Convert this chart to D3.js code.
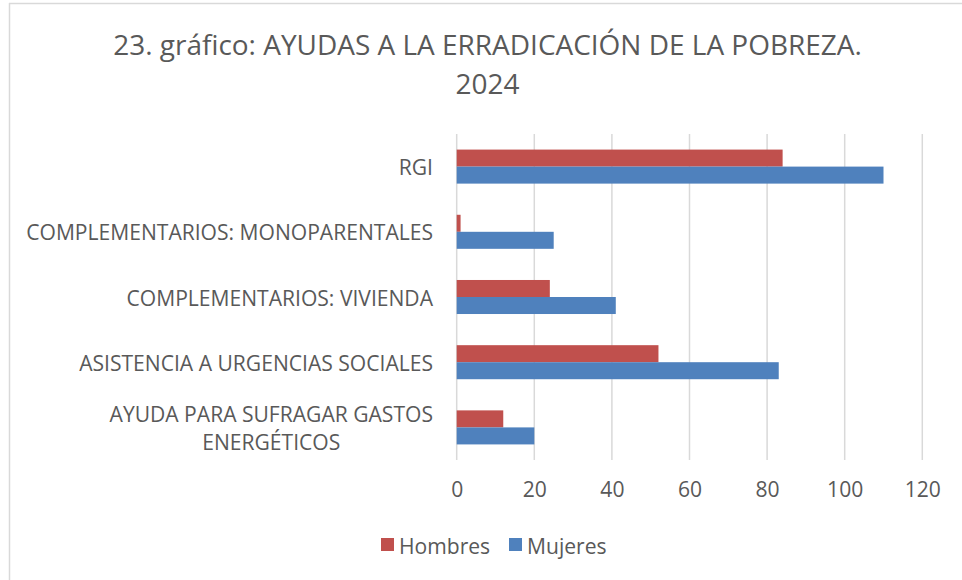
<!DOCTYPE html>
<html>
<head>
<meta charset="utf-8">
<script src="https://cdn.jsdelivr.net/npm/d3@7"></script>
<style>
  html, body { margin: 0; padding: 0; background: #fff; }
  svg { display: block; }
  text { font-family: "Open Sans", "Liberation Sans", sans-serif; fill: #595959; }
</style>
</head>
<body>
<svg id="chart" width="962" height="580"></svg>
<script>
const titleLines = ["23. gráfico: AYUDAS A LA ERRADICACIÓN DE LA POBREZA.", "2024"];
const categories = [
  "RGI",
  "COMPLEMENTARIOS: MONOPARENTALES",
  "COMPLEMENTARIOS: VIVIENDA",
  "ASISTENCIA A URGENCIAS SOCIALES",
  "AYUDA PARA SUFRAGAR GASTOS ENERGÉTICOS"
];
const categoryLines = [
  ["RGI"],
  ["COMPLEMENTARIOS: MONOPARENTALES"],
  ["COMPLEMENTARIOS: VIVIENDA"],
  ["ASISTENCIA A URGENCIAS SOCIALES"],
  ["AYUDA PARA SUFRAGAR GASTOS", "ENERGÉTICOS"]
];
const seriesNames = ["Hombres", "Mujeres"];
const hombres = [84, 1, 24, 52, 12];
const mujeres = [110, 25, 41, 83, 20];
const xTicks = [0, 20, 40, 60, 80, 100, 120];
const colors = ["#c0504d", "#4f81bd"];

const svg = d3.select("#chart");

// frame (left & top edges visible)
svg.append("line").attr("x1", 9.5).attr("x2", 9.5).attr("y1", 3).attr("y2", 580)
  .attr("stroke", "#d9d9d9").attr("stroke-width", 1.5);
svg.append("line").attr("x1", 9).attr("x2", 962).attr("y1", 3.5).attr("y2", 3.5)
  .attr("stroke", "#d9d9d9").attr("stroke-width", 1.5);

function fitSize(sel, targetWidth, baseSize) {
  sel.attr("font-size", baseSize);
  const w = sel.node().getComputedTextLength();
  return baseSize * targetWidth / w;
}

// Title
const t1 = svg.append("text").attr("x", 487.5).attr("y", 55).attr("text-anchor", "middle").text(titleLines[0]);
const titleSize = fitSize(t1, 749, 28);
t1.attr("font-size", titleSize);
svg.append("text").attr("x", 487.5).attr("y", 94).attr("text-anchor", "middle")
  .attr("font-size", titleSize).text(titleLines[1]);

const x = d3.scaleLinear().domain([0, 120]).range([456.7, 922.3]);
const y = d3.scaleBand().domain(categories).range([134, 460]).paddingInner(0.478).paddingOuter(0.239);
const ySub = d3.scaleBand().domain(seriesNames).range([0, y.bandwidth()]);

// measure label font size
const probe = svg.append("text").text("COMPLEMENTARIOS: MONOPARENTALES");
const labelSize = fitSize(probe, 407, 18);
probe.remove();

// gridlines
svg.append("g").selectAll("line").data(xTicks).join("line")
  .attr("x1", d => x(d)).attr("x2", d => x(d))
  .attr("y1", 134).attr("y2", 460)
  .attr("stroke", "#d9d9d9").attr("stroke-width", 1.5);

// bars
const data = categories.map((c, i) => ({ c, vals: [hombres[i], mujeres[i]] }));
const groups = svg.append("g").selectAll("g").data(data).join("g")
  .attr("transform", d => `translate(0,${y(d.c)})`);
groups.selectAll("rect").data(d => d.vals.map((v, j) => ({ v, s: seriesNames[j], j }))).join("rect")
  .attr("x", x(0))
  .attr("y", d => ySub(d.s))
  .attr("width", d => x(d.v) - x(0))
  .attr("height", ySub.bandwidth())
  .attr("fill", d => colors[d.j]);

// x axis
const xAxis = svg.append("g").attr("transform", "translate(0,460)")
  .call(d3.axisBottom(x).tickValues(xTicks).tickSize(0).tickPadding(22));
xAxis.select(".domain").remove();
xAxis.selectAll("text").attr("font-size", labelSize).attr("fill", "#595959")
  .style("font-family", '"Open Sans", "Liberation Sans", sans-serif');

// category labels
const lineH = 28;
categories.forEach((c, i) => {
  const lines = categoryLines[i];
  const cy = y(c) + y.bandwidth() / 2;
  const txt = svg.append("text").attr("font-size", labelSize).attr("dominant-baseline", "central");
  if (lines.length === 1) {
    txt.attr("x", 433).attr("y", cy).attr("text-anchor", "end").text(lines[0]);
  } else {
    // centered multi-line, right edge aligned to 433 for widest line
    const tmp = svg.append("text").attr("font-size", labelSize).text(lines[0]);
    const w = tmp.node().getComputedTextLength();
    tmp.remove();
    const cx = 433 - w / 2;
    txt.attr("text-anchor", "middle");
    lines.forEach((l, k) => {
      txt.append("tspan").attr("x", cx).attr("y", cy + (k - (lines.length - 1) / 2) * lineH).text(l);
    });
  }
});

// legend
const legendItems = [
  { name: seriesNames[0], color: colors[0], x: 381 },
  { name: seriesNames[1], color: colors[1], x: 509 }
];
const lg = svg.append("g").selectAll("g").data(legendItems).join("g")
  .attr("transform", d => `translate(${d.x},538)`);
lg.append("rect").attr("width", 13).attr("height", 13).attr("fill", d => d.color);
lg.append("text").attr("x", 18).attr("y", 7).attr("dominant-baseline", "central")
  .attr("font-size", labelSize).text(d => d.name);
</script>
</body>
</html>
